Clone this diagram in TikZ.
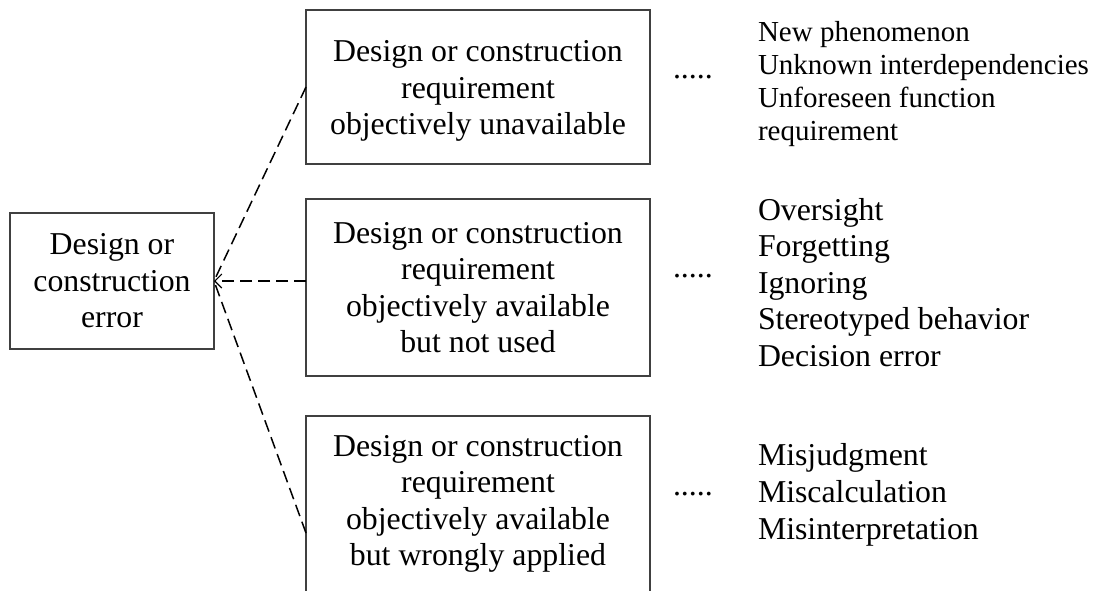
\documentclass[tikz,border=0pt]{standalone}
\usepackage{fontspec}
\setmainfont{Liberation Serif}
\usetikzlibrary{arrows.meta,calc}

\tikzset{
  boxfont/.style={font=\fontsize{31.8}{36.5}\selectfont},
  listfont/.style={font=\fontsize{31.8}{36.5}\selectfont},
  smalllist/.style={font=\fontsize{29}{33}\selectfont},
  causebox/.style={draw=black!75, line width=1.2pt, inner sep=0pt, outer sep=0pt,
    align=center, boxfont},
  plain/.style={inner sep=0pt, outer sep=0pt},
  causelink/.style={dash pattern=on 12pt off 6pt, line width=1.5pt, black},
  leaders/.style={plain, boxfont, anchor=west},
  causelist/.style={plain, align=left, anchor=west},
}

\begin{document}
\begin{tikzpicture}[x=1pt, y=-1pt]
\useasboundingbox (0,0) rectangle (1101,590);
\clip (0,0) rectangle (1101,590);

% root of the classification
\node[causebox, minimum width=204, minimum height=136] (err) at (112,281)
  {Design or\\construction\\error};

% three kinds of requirement situations
\node[causebox, minimum width=344, minimum height=154] (unavail) at (478,87) {};
\node[plain, align=center, boxfont] (unavailtext) at (478,91)
  {Design or construction\\requirement\\objectively unavailable};
\node[causebox, minimum width=344, minimum height=177] (notused) at (478,287.5)
  {Design or construction\\requirement\\objectively available\\but not used};
\node[causebox, minimum width=344, minimum height=240] (wrong) at (478,536) {};
\node[plain, align=center, boxfont] (wrongtext) at (478,504)
  {Design or construction\\requirement\\objectively available\\but wrongly applied};

% dashed links to the root
\coordinate (tip) at (err.east);
\coordinate (wrongin) at ($(wrong.north west)+(0,117)$);
\draw[causelink] (unavail.west) -- (tip);
\draw[causelink, -{Straight Barb[length=7pt, width=14pt, line width=1.1pt]}]
  (tip -| notused.west) -- (tip);
\draw[causelink] (wrongin) -- (tip);

% leader dots
\node[leaders] (d1) at (673,77) {.....};
\node[leaders] (d2) at (673,276) {.....};
\node[leaders] (d3) at (673,494) {.....};

% examples for each kind
\node[causelist, smalllist] (l1) at (758,83.7)
  {New phenomenon\\Unknown interdependencies\\Unforeseen function\\requirement};
\node[causelist, listfont] (l2) at (758,282.3)
  {Oversight\\Forgetting\\Ignoring\\Stereotyped behavior\\Decision error};
\node[causelist, font=\fontsize{31.8}{37}\selectfont] (l3) at (758,494.6)
  {Misjudgment\\Miscalculation\\Misinterpretation};
\end{tikzpicture}
\end{document}
